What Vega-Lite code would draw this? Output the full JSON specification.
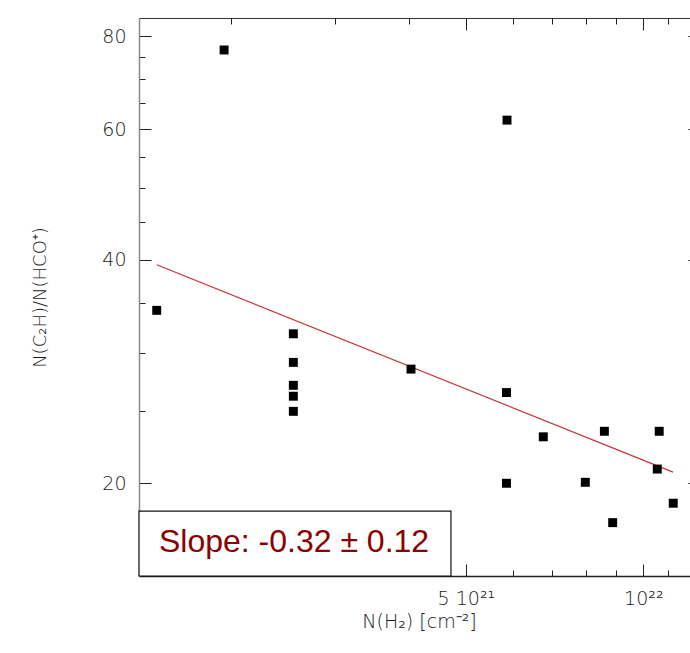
{
  "$schema": "https://vega.github.io/schema/vega-lite/v6.json",
  "autosize": {"type": "none"},
  "padding": {"left": 139, "top": 18, "right": 0, "bottom": 77},
  "width": 551,
  "height": 558,
  "background": "white",
  "config": {
    "view": {"stroke": null},
    "axis": {
      "labelFont": "DejaVu Sans",
      "labelFontWeight": 200,
      "titleFont": "DejaVu Sans",
      "titleFontWeight": 200,
      "labelColor": "#1a1a1a",
      "titleColor": "#1a1a1a",
      "tickColor": "#222",
      "tickWidth": 1,
      "grid": false
    }
  },
  "datasets": {
    "points": [
      {"nh2": 1.495e21, "ratio": 34.2},
      {"nh2": 1.945e21, "ratio": 76.7},
      {"nh2": 5.872e21, "ratio": 61.7},
      {"nh2": 2.549e21, "ratio": 31.8},
      {"nh2": 2.549e21, "ratio": 29.1},
      {"nh2": 2.549e21, "ratio": 27.1},
      {"nh2": 2.549e21, "ratio": 26.2},
      {"nh2": 2.549e21, "ratio": 25.0},
      {"nh2": 4.036e21, "ratio": 28.5},
      {"nh2": 5.86e21, "ratio": 26.5},
      {"nh2": 6.766e21, "ratio": 23.1},
      {"nh2": 8.589e21, "ratio": 23.5},
      {"nh2": 1.064e22, "ratio": 23.5},
      {"nh2": 1.056e22, "ratio": 20.9},
      {"nh2": 5.86e21, "ratio": 20.0},
      {"nh2": 7.973e21, "ratio": 20.06},
      {"nh2": 8.872e21, "ratio": 17.7},
      {"nh2": 1.124e22, "ratio": 18.8}
    ],
    "fit": [
      {"nh2": 1.495e21, "ratio": 39.4},
      {"nh2": 1.123e22, "ratio": 20.7}
    ],
    "box": [
      {"x1": 1.395e21, "x2": 4.718e21, "y1": 15, "y2": 18.34}
    ],
    "label": [
      {"nh2": 2.556e21, "ratio": 16.16, "text": "Slope: -0.32 ± 0.12"}
    ]
  },
  "layer": [
    {
      "data": {"name": "box"},
      "mark": {"type": "rect", "fill": "white", "stroke": "#111", "strokeWidth": 1.2},
      "encoding": {
        "x": {"field": "x1", "type": "quantitative",
          "scale": {"type": "log", "domain": [1.395e21, 1.2e22], "nice": false, "zero": false},
          "axis": {"orient": "top", "values": [5e21, 1e22], "tickSize": -12, "labels": false, "title": null, "domainColor": "#333", "domainWidth": 1.2}},
        "x2": {"field": "x2"},
        "y": {"field": "y1", "type": "quantitative",
          "scale": {"type": "log", "domain": [15, 84.7], "nice": false, "zero": false},
          "axis": {"orient": "right", "offset": 10, "values": [20, 40, 60, 80], "tickSize": -12, "labels": false, "title": null, "domain": false}},
        "y2": {"field": "y2"}
      }
    },
    {
      "data": {"name": "fit"},
      "mark": {"type": "line", "color": "#c83030", "strokeWidth": 1.2},
      "encoding": {
        "x": {"field": "nh2", "type": "quantitative",
          "axis": {"orient": "bottom", "values": [2e21, 3e21, 4e21, 6e21, 7e21, 8e21, 9e21, 1.1e22], "tickSize": -6, "labels": false, "title": null, "domain": false}},
        "y": {"field": "ratio", "type": "quantitative",
          "axis": {"orient": "left", "values": [25, 30, 35, 45, 50, 55, 65, 70, 75], "tickSize": -6, "labels": false, "title": null, "domain": false}}
      }
    },
    {
      "data": {"name": "points"},
      "mark": {"type": "point", "shape": "square", "filled": true, "color": "black", "size": 80, "opacity": 1, "strokeWidth": 0},
      "encoding": {
        "x": {"field": "nh2", "type": "quantitative",
          "axis": {"orient": "bottom", "values": [5e21, 1e22], "tickSize": -12,
            "labelExpr": "datum.value > 9e21 ? '10²²' : '5 10²¹'",
            "labelFontSize": 19, "labelPadding": 25, "labelBaseline": "top",
            "domainColor": "#222", "domainWidth": 1.5,
            "title": "N(H₂) [cm⁻²]", "titleFontSize": 19, "titleX": 280, "titleY": 51, "titleBaseline": "alphabetic"}},
        "y": {"field": "ratio", "type": "quantitative",
          "axis": {"orient": "left", "values": [20, 40, 60, 80], "tickSize": -12,
            "labelFontSize": 19, "labelPadding": 25,
            "domainColor": "#888", "domainWidth": 1.5,
            "title": "N(C₂H)/N(HCO⁺)", "titleFontSize": 18, "titleX": -99, "titleY": 279, "titleBaseline": "middle", "titleAngle": -90}}
      }
    },
    {
      "data": {"name": "label"},
      "mark": {"type": "text", "font": "Liberation Sans", "fontSize": 32, "color": "#8b0000", "baseline": "alphabetic", "align": "center"},
      "encoding": {
        "x": {"field": "nh2", "type": "quantitative",
          "axis": {"orient": "top", "values": [2e21, 3e21, 4e21, 6e21, 7e21, 8e21, 9e21, 1.1e22], "tickSize": -6, "labels": false, "title": null, "domain": false}},
        "y": {"field": "ratio", "type": "quantitative", "axis": null},
        "text": {"field": "text"}
      }
    }
  ],
  "resolve": {"axis": {"x": "independent", "y": "independent"}}
}
